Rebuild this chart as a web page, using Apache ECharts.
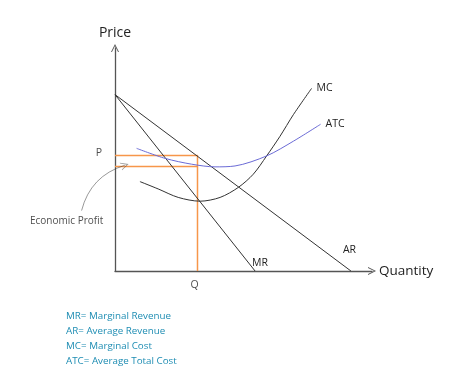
<!DOCTYPE html>
<html><head><meta charset="utf-8">
<script src="https://cdn.jsdelivr.net/npm/echarts@6/dist/echarts.min.js"></script>
<style>html,body{margin:0;padding:0;background:#fff}#c{width:474px;height:384px}</style>
</head><body><div id="c"></div>
<script>
// Data (quantity units 0..10 on x, price units 0..10 on y)
const arLine = [[0, 7.91], [9.18, 0]];
const mrLine = [[0, 7.91], [5.45, 0]];
const mcCurve = [[0.97, 4.01], [1.68, 3.68], [2.46, 3.30], [3.31, 3.13], [4.09, 3.30], [4.80, 3.75], [5.38, 4.34], [5.90, 5.16], [6.42, 6.04], [6.94, 7.01], [7.65, 8.19]];
const atcCurve = [[0.84, 5.50], [1.95, 5.05], [2.98, 4.79], [3.89, 4.67], [4.67, 4.71], [5.90, 5.16], [6.94, 5.82], [8.00, 6.58]];
const qValue = 3.21;
const pValue = 5.18;
const atcAtQ = 4.69;
const profitArrow = [[-1.30, 2.71], [0.38, 4.74]];
const legendLines = ['MR= Marginal Revenue', 'AR= Average Revenue', 'MC= Marginal Cost', 'ATC= Average Total Cost'];

const FONT = '"Open Sans", "Noto Sans", sans-serif';
const chevron = 'path://M5,0 L10,10 L8.8,10 L5,2.4 L1.2,10 L0,10 Z';
const dark = '#333';
const orange = '#f7964a';
const txt = '#222';

const chart = echarts.init(document.getElementById('c'), null, {renderer: 'canvas'});
const endLbl = (text, offset) => ({show: true, formatter: text, offset: offset, color: txt, fontSize: 10.5, fontFamily: FONT});

chart.setOption({
  animation: false,
  backgroundColor: '#fff',
  title: {
    text: legendLines.join('\n'), left: 66, top: 309, padding: 0,
    textStyle: {color: '#1e8db3', fontSize: 9.8, fontWeight: 'normal', fontFamily: FONT, lineHeight: 14.9}
  },
  grid: {left: 115, right: 102, top: 48, bottom: 113},
  xAxis: {
    type: 'value', min: 0, max: 10,
    name: 'Quantity', nameLocation: 'end', nameGap: 7,
    nameTextStyle: {fontSize: 13.5, color: txt, fontFamily: FONT, verticalAlign: 'middle'},
    axisLine: {show: true, lineStyle: {color: '#555', width: 1.3}, symbol: ['none', chevron], symbolSize: [8, 9]},
    axisTick: {show: false}, axisLabel: {show: false}, splitLine: {show: false}
  },
  yAxis: {
    type: 'value', min: 0, max: 10,
    name: 'Price', nameLocation: 'end', nameGap: 8,
    nameTextStyle: {fontSize: 14, color: txt, fontFamily: FONT, align: 'center'},
    axisLine: {show: true, lineStyle: {color: '#555', width: 1.3}, symbol: ['none', chevron], symbolSize: [8, 9]},
    axisTick: {show: false}, axisLabel: {show: false}, splitLine: {show: false}
  },
  series: [
    {type: 'line', data: [[0, pValue], [qValue, pValue], [qValue, 0]], symbol: 'none', lineStyle: {color: orange, width: 1.5}, z: 1},
    {type: 'line', data: [[0, atcAtQ], [qValue, atcAtQ]], symbol: 'none', lineStyle: {color: orange, width: 1.5}, z: 1},
    {type: 'line', name: 'AR', symbol: 'none', lineStyle: {color: dark, width: 1}, data: arLine, endLabel: endLbl('AR', [-16, -21])},
    {type: 'line', name: 'MR', symbol: 'none', lineStyle: {color: dark, width: 1}, data: mrLine, endLabel: endLbl('MR', [-11, -8])},
    {type: 'line', name: 'MC', symbol: 'none', smooth: 0.3, lineStyle: {color: dark, width: 1}, data: mcCurve, endLabel: endLbl('MC', [-3, 0])},
    {type: 'line', name: 'ATC', symbol: 'none', smooth: 0.3, lineStyle: {color: '#6b6bd6', width: 1}, data: atcCurve, endLabel: endLbl('ATC', [-3, 0])},
    {type: 'scatter', symbolSize: 0, silent: true, clip: false,
      data: [
        {value: [0, pValue], label: {show: true, formatter: 'P', position: 'left', distance: 13, offset: [0, -2], color: txt, fontSize: 10.5, fontFamily: FONT}},
        {value: [qValue, 0], label: {show: true, formatter: 'Q', position: 'bottom', distance: 9, offset: [-3, 0], color: txt, fontSize: 10.5, fontFamily: FONT}},
        {value: profitArrow[0], label: {show: true, formatter: 'Economic Profit', position: 'bottom', distance: 6, offset: [-15, 0], color: txt, fontSize: 10, fontFamily: FONT}}
      ]},
    {type: 'lines', coordinateSystem: 'cartesian2d', clip: false, silent: true,
      symbol: ['none', chevron], symbolSize: 8,
      lineStyle: {color: dark, width: 1, curveness: 0.28},
      data: [{coords: profitArrow}]}
  ]
});
</script></body></html>
